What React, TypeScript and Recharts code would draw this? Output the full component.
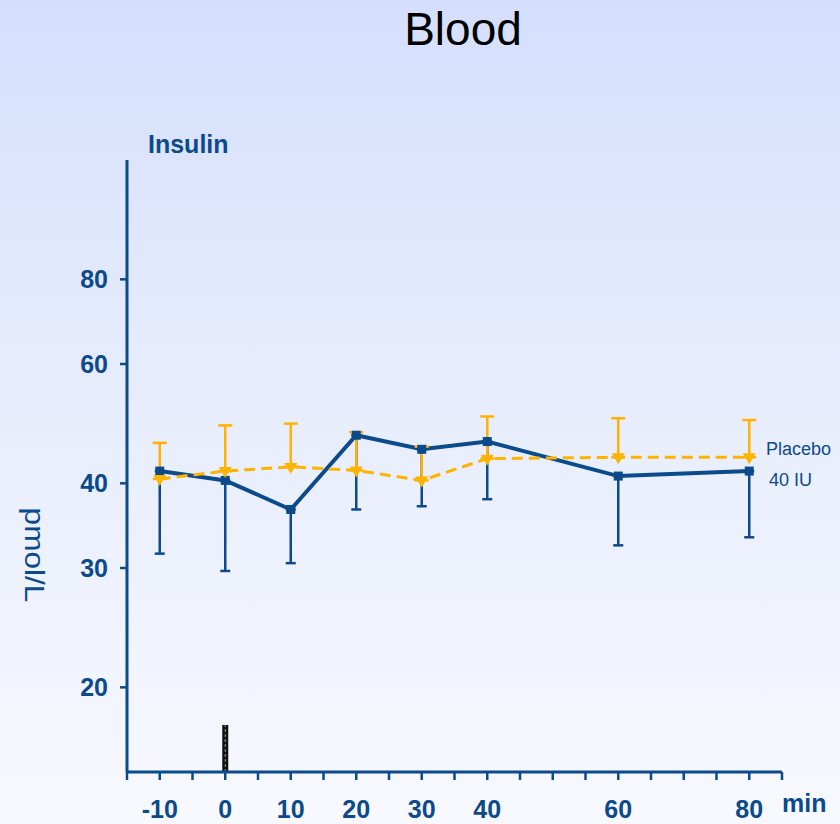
import { LineChart, Line, XAxis, YAxis, ErrorBar, ReferenceLine } from "recharts"

// sampling times (min) and insulin levels (pmol/L)
const times = [-10, 0, 10, 20, 30, 40, 60, 80]
const insulin40 = [41.7, 40.4, 36.6, 47.1, 44.9, 46.1, 41.0, 41.7]
const insulin40Low = [31.5, 29.7, 30.5, 36.6, 37.0, 37.9, 32.4, 33.3]
const placebo = [40.6, 41.7, 42.3, 41.8, 40.4, 43.5, 43.7, 43.7]
const placeboHigh = [45.9, 48.7, 49.0, 47.6, 45.3, 50.2, 49.9, 49.6]

const xTicks = [-15, -10, -5, 0, 5, 10, 15, 20, 25, 30, 35, 40, 45, 50, 55, 60, 65, 70, 75, 80, 85]
const xLabeled = [-10, 0, 10, 20, 30, 40, 60, 80]
const yTicks = [20, 30, 40, 60, 80]

// dosing marker at t = 0
const doseTime = 0
const doseTop = 17.6

const BLUE = "#0b4a8b"
const ORANGE = "#ffb300"
const FONT = "'Liberation Sans', Arial, sans-serif"

const rows = times.map((t, i) => ({
  t,
  iu: insulin40[i],
  iuErr: [insulin40[i] - insulin40Low[i], 0],
  pl: placebo[i],
  plErr: [0, placeboHigh[i] - placebo[i]],
}))

type DotProps = { cx?: number; cy?: number; index?: number }

function SquareDot({ cx, cy, index }: DotProps) {
  if (cx === undefined || cy === undefined) return null
  return <rect key={`sq-${index}`} x={cx - 4.5} y={cy - 4.5} width={9} height={9} fill={BLUE} />
}

function TriangleDot({ cx, cy, index }: DotProps) {
  if (cx === undefined || cy === undefined) return null
  return (
    <path
      key={`tri-${index}`}
      d={`M ${cx - 6.5} ${cy - 4} L ${cx + 6.5} ${cy - 4} L ${cx} ${cy + 7} Z`}
      fill={ORANGE}
    />
  )
}

const tickStyle = { fill: BLUE, fontSize: 25, fontWeight: 700, fontFamily: FONT }

export default function App() {
  return (
    <div
      style={{
        position: "absolute",
        left: 0,
        top: 0,
        width: 840,
        height: 824,
        overflow: "hidden",
        background: "linear-gradient(180deg, #d5dffd 0%, #e6ecfc 45%, #f8f9fe 100%)",
        fontFamily: FONT,
      }}
    >
      <div
        style={{
          position: "absolute",
          left: 0,
          width: 926,
          top: 2,
          textAlign: "center",
          fontSize: 46,
          color: "#000",
        }}
      >
        Blood
      </div>
      <div style={{ position: "absolute", left: 148, top: 130, fontSize: 25, fontWeight: 700, color: BLUE }}>
        Insulin
      </div>
      <div
        style={{
          position: "absolute",
          left: 33,
          top: 555,
          fontSize: 27,
          color: BLUE,
          whiteSpace: "nowrap",
          transform: "translate(-50%, -50%) rotate(90deg) scaleX(1.17)",
        }}
      >
        pmol/L
      </div>
      <div style={{ position: "absolute", left: 782, top: 789, fontSize: 25, fontWeight: 700, color: BLUE }}>
        min
      </div>
      <div style={{ position: "absolute", left: 766, top: 439, fontSize: 18, color: BLUE }}>Placebo</div>
      <div style={{ position: "absolute", left: 769, top: 470, fontSize: 18, color: BLUE }}>40 IU</div>

      <div style={{ position: "absolute", left: 0, top: 0 }}>
        <LineChart width={840} height={824} data={rows} margin={{ top: 160, right: 58, bottom: 12, left: 67 }}>
          <XAxis
            dataKey="t"
            type="number"
            domain={[-15, 85]}
            ticks={xTicks}
            interval={0}
            height={40}
            tickSize={8}
            tickMargin={20}
            tickFormatter={(v: number) => (xLabeled.includes(v) ? String(v) : "")}
            tick={tickStyle}
            axisLine={{ stroke: BLUE, strokeWidth: 3 }}
            tickLine={{ stroke: BLUE, strokeWidth: 2.5 }}
          />
          <YAxis
            scale="log"
            domain={[15, 120]}
            ticks={yTicks}
            allowDataOverflow
            width={60}
            tickSize={7}
            tickMargin={12}
            tick={tickStyle}
            axisLine={{ stroke: BLUE, strokeWidth: 3 }}
            tickLine={{ stroke: BLUE, strokeWidth: 2.5 }}
          />
          <ReferenceLine
            segment={[
              { x: doseTime, y: 15 },
              { x: doseTime, y: doseTop },
            ]}
            stroke="#111"
            strokeWidth={6}
          />
          <ReferenceLine
            segment={[
              { x: doseTime, y: 15 },
              { x: doseTime, y: doseTop },
            ]}
            stroke="#9a9a9a"
            strokeWidth={1}
            strokeDasharray="3 2"
          />
          <Line
            dataKey="iu"
            stroke={BLUE}
            strokeWidth={4}
            dot={<SquareDot />}
            isAnimationActive={false}
          >
            <ErrorBar dataKey="iuErr" width={5} stroke={BLUE} strokeWidth={2.5} direction="y" />
          </Line>
          <Line
            dataKey="pl"
            stroke={ORANGE}
            strokeWidth={3}
            strokeDasharray="11 6"
            dot={<TriangleDot />}
            isAnimationActive={false}
          >
            <ErrorBar dataKey="plErr" width={7} stroke={ORANGE} strokeWidth={2.5} direction="y" />
          </Line>
        </LineChart>
      </div>
    </div>
  )
}
